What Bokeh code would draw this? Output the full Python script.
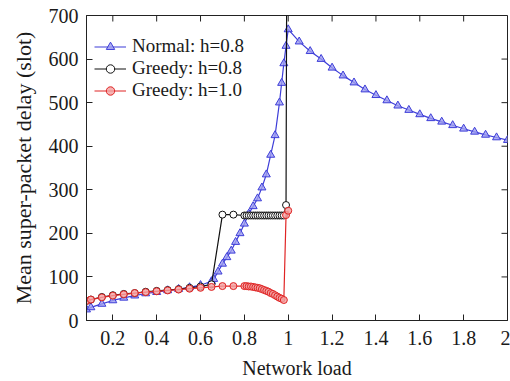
import math
from bokeh.plotting import figure
from bokeh.models import Range1d, FixedTicker, Legend, LegendItem
from bokeh.embed import file_html
from bokeh.resources import INLINE

# ---------------- data ----------------
normal_x = [0.08, 0.1, 0.15, 0.2, 0.25, 0.3, 0.35, 0.4, 0.45, 0.5, 0.55, 0.6, 0.65,
            0.66, 0.68, 0.70, 0.72, 0.74, 0.76, 0.78, 0.80, 0.82, 0.84, 0.86, 0.88,
            0.90, 0.92, 0.94, 0.96, 0.97, 0.98, 0.99, 1.0,
            1.05, 1.1, 1.15, 1.2, 1.25, 1.3, 1.35, 1.4, 1.45, 1.5, 1.55, 1.6, 1.65,
            1.7, 1.75, 1.8, 1.85, 1.9, 1.95, 2.0]
normal_y = [25, 30, 38, 46, 52, 57, 62, 65, 69, 72, 76, 81, 90,
            95, 112, 130, 145, 160, 180, 200, 222, 245, 262, 280, 305,
            335, 380, 425, 500, 545, 590, 630, 668,
            640, 618, 600, 580, 562, 546, 530, 517, 505, 493, 483, 473, 464,
            456, 448, 440, 433, 426, 420, 414]

greedy08_x = [0.08, 0.1, 0.15, 0.2, 0.25, 0.3, 0.35, 0.4, 0.45, 0.5, 0.55, 0.6, 0.65,
              0.70, 0.75, 0.80, 0.81, 0.82, 0.83, 0.84, 0.85, 0.86, 0.87, 0.88, 0.89,
              0.90, 0.91, 0.92, 0.93, 0.94, 0.95, 0.96, 0.97, 0.98, 0.99, 1.0]
greedy08_y = [45, 48, 54, 58, 61, 63, 66, 68, 70, 72, 75, 78, 83,
              243, 243, 241, 241, 241, 241, 241, 241, 241, 241, 241, 241,
              241, 241, 241, 241, 241, 241, 241, 241, 241, 265, 2000]

greedy10_x = [0.08, 0.1, 0.15, 0.2, 0.25, 0.3, 0.35, 0.4, 0.45, 0.5, 0.55, 0.6, 0.65,
              0.70, 0.75, 0.80, 0.81, 0.82, 0.83, 0.84, 0.85, 0.86, 0.87, 0.88, 0.89,
              0.90, 0.91, 0.92, 0.93, 0.94, 0.95, 0.96, 0.97, 0.98, 0.99, 1.0]
greedy10_y = [45, 48, 53, 57, 60, 63, 65, 67, 69, 71, 73, 75, 77,
              79, 79, 79, 79, 78, 78, 77, 76, 75, 74, 72, 70,
              68, 66, 63, 61, 58, 55, 52, 50, 47, 242, 252]

x_ticks = [0.2, 0.4, 0.6, 0.8, 1.0, 1.2, 1.4, 1.6, 1.8, 2.0]
x_tick_labels = ["0.2", "0.4", "0.6", "0.8", "1", "1.2", "1.4", "1.6", "1.8", "2"]
y_ticks = [0, 100, 200, 300, 400, 500, 600, 700]

series_labels = ["Normal: h=0.8", "Greedy: h=0.8", "Greedy: h=1.0"]

X_MIN, X_MAX = 0.08, 2.0
Y_MIN, Y_MAX = 0, 700

# ---------------- figure ----------------
FONT = "Liberation Serif"
TXT = "#1a1a1a"
AX = "#222222"

p = figure(width=510, height=381, output_backend="svg", toolbar_location=None,
           x_range=Range1d(X_MIN, X_MAX), y_range=Range1d(Y_MIN, Y_MAX),
           min_border_left=86, min_border_right=3, min_border_top=15, min_border_bottom=10)
p.background_fill_color = "white"
p.border_fill_color = "white"
p.outline_line_color = AX
p.outline_line_width = 1
p.xgrid.visible = False
p.ygrid.visible = False

overrides = {t: l for t, l in zip(x_ticks, x_tick_labels)}

for ax in p.xaxis:
    ax.ticker = FixedTicker(ticks=x_ticks)
    ax.major_label_overrides = overrides
    ax.axis_label = "Network load"
    ax.axis_label_standoff = 9
    ax.major_label_standoff = 10
    ax.axis_label_text_font_size = "20px"
for ax in p.yaxis:
    ax.ticker = FixedTicker(ticks=y_ticks)
    ax.axis_label = "Mean super-packet delay (slot)"
    ax.axis_label_standoff = 10
    ax.major_label_standoff = 8
    ax.axis_label_text_font_size = "22px"

for ax in list(p.xaxis) + list(p.yaxis):
    ax.major_tick_in = 6
    ax.major_tick_out = 0
    ax.minor_tick_line_color = None
    ax.axis_line_color = AX
    ax.major_tick_line_color = AX
    ax.major_label_text_font = FONT
    ax.major_label_text_font_size = "20px"
    ax.major_label_text_color = TXT
    ax.axis_label_text_font = FONT
    ax.axis_label_text_font_style = "normal"
    ax.axis_label_text_color = TXT

# mirror ticks on the top and right edges (inward)
p.ray(x=x_ticks, y=Y_MAX, length=6, length_units="screen", angle=-math.pi / 2,
      line_color=AX, line_width=1)
p.ray(x=X_MAX, y=y_ticks, length=6, length_units="screen", angle=math.pi,
      line_color=AX, line_width=1)

# ---------------- series ----------------
BLUE = "#3d3dd8"
RED = "#e02424"
BLACK = "#111111"

l1 = p.line(normal_x, normal_y, line_color=BLUE, line_width=1.2)
m1 = p.scatter(normal_x, normal_y, marker="triangle", size=8, line_color=BLUE,
               fill_color="#9d9df0", fill_alpha=0.8, line_width=1)

l2 = p.line(greedy08_x, greedy08_y, line_color=BLACK, line_width=1.2)
m2 = p.scatter(greedy08_x, greedy08_y, marker="circle", size=7, line_color=BLACK,
               fill_color="white", line_width=1)

l3 = p.line(greedy10_x, greedy10_y, line_color=RED, line_width=1.2)
m3 = p.scatter(greedy10_x, greedy10_y, marker="circle", size=7, line_color=RED,
               fill_color="#f3a0a0", fill_alpha=0.8, line_width=1)

legend = Legend(items=[LegendItem(label=series_labels[0], renderers=[l1, m1]),
                       LegendItem(label=series_labels[1], renderers=[l2, m2]),
                       LegendItem(label=series_labels[2], renderers=[l3, m3])],
                location=(8, 219), orientation="vertical")
legend.label_text_font = FONT
legend.label_text_font_size = "19px"
legend.label_text_color = TXT
legend.label_height = 21
legend.glyph_height = 21
legend.glyph_width = 32
legend.spacing = 0
legend.padding = 0
legend.margin = 0
legend.label_standoff = 6
legend.background_fill_alpha = 0
legend.border_line_alpha = 0
p.add_layout(legend, "center")

open("out.html", "w").write(file_html(p, INLINE))
